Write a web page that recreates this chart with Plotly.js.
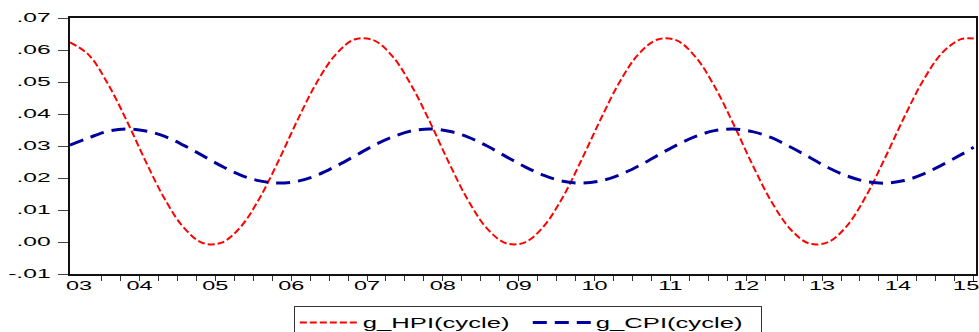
<!DOCTYPE html>
<html>
<head>
<meta charset="utf-8">
<script src="https://cdn.plot.ly/plotly-3.0.1.min.js"></script>
<style>
  html, body { margin: 0; padding: 0; background: #fff; }
  #chart { width: 979px; height: 332px; }
</style>
</head>
<body>
<div id="chart"></div>
<script>
const hpiCycle = [
  0.0624, 0.0584, 0.0494, 0.0378, 0.0251, 0.0134, 0.0045, -0.0003,
  -0.0002, 0.0047, 0.0137, 0.0254, 0.0381, 0.0497, 0.0585, 0.0633,
  0.0631, 0.0581, 0.0490, 0.0373, 0.0246, 0.0130, 0.0042, -0.0004,
  -0.0001, 0.0050, 0.0141, 0.0259, 0.0385, 0.0501, 0.0588, 0.0633,
  0.0630, 0.0578, 0.0486, 0.0368, 0.0241, 0.0126, 0.0040, -0.0005,
  0.0000, 0.0052, 0.0145, 0.0264, 0.0390, 0.0505, 0.0591, 0.0634,
  0.0636
];
const cpiCycle = [
  0.0303, 0.0326, 0.0346, 0.0353, 0.0347, 0.0330, 0.0302, 0.0270,
  0.0237, 0.0209, 0.0191, 0.0184, 0.0190, 0.0208, 0.0236, 0.0268,
  0.0301, 0.0328, 0.0347, 0.0353, 0.0346, 0.0328, 0.0300, 0.0267,
  0.0235, 0.0208, 0.0190, 0.0184, 0.0191, 0.0210, 0.0238, 0.0271,
  0.0303, 0.0330, 0.0348, 0.0353, 0.0345, 0.0326, 0.0297, 0.0265,
  0.0232, 0.0206, 0.0189, 0.0184, 0.0192, 0.0212, 0.0241, 0.0273,
  0.0296
];
const seriesNames = ["g_HPI(cycle)", "g_CPI(cycle)"];
const yearLabels = ["03","04","05","06","07","08","09","10","11","12","13","14","15"];
const yTickValues = [-0.01, 0.00, 0.01, 0.02, 0.03, 0.04, 0.05, 0.06, 0.07];
const yTickLabels = ["-.01", ".00", ".01", ".02", ".03", ".04", ".05", ".06", ".07"];

// observation dates (sample 2003M08 .. 2015M06, plotted quarterly)
const sampleStart = 2003 + 7 / 12, sampleEnd = 2015.5;
const obsTime = [];
for (let k = 0; k < hpiCycle.length - 1; k++) obsTime.push(sampleStart + k / 4);
obsTime.push(sampleEnd);

// label positions: centred within each visible year
const labelPos = yearLabels.map((s, i) => {
  const y0 = Math.max(2003 + i, sampleStart), y1 = Math.min(2004 + i, sampleEnd);
  return i === 0 ? y0 + 0.12 : (i === yearLabels.length - 1 ? y1 - 0.1 : (y0 + y1) / 2);
});
const quarterTicks = [];
for (let q = 2004; q <= sampleEnd + 1e-9; q += 0.25) quarterTicks.push(q);

const font = "Liberation Sans, Arial, sans-serif";

const traces = [
  { x: obsTime, y: hpiCycle, name: seriesNames[0], type: "scatter", mode: "lines",
    line: { color: "#ff0000", width: 2, dash: "7px,3px", shape: "spline", smoothing: 1 } },
  { x: obsTime, y: cpiCycle, name: seriesNames[1], type: "scatter", mode: "lines",
    line: { color: "#00009c", width: 3, dash: "14px,8px", shape: "spline", smoothing: 1 } }
];

const layout = {
  width: 979, height: 332,
  margin: { l: 70, r: 3, t: 18, b: 58, autoexpand: false },
  paper_bgcolor: "#fff", plot_bgcolor: "#fff",
  showlegend: true,
  legend: {
    orientation: "h", x: 0.247, xanchor: "left", y: -0.125, yanchor: "top",
    bordercolor: "#333", borderwidth: 1, bgcolor: "#fff",
    font: { family: font, size: 14, color: "#000" },
    itemwidth: 58, entrywidth: 160, entrywidthmode: "pixels"
  },
  xaxis: {
    range: [sampleStart, sampleEnd + 0.03],
    tickmode: "array", tickvals: labelPos, ticktext: yearLabels,
    ticks: "", showgrid: false, zeroline: false,
    showline: true, linecolor: "#111", linewidth: 2, mirror: true,
    tickfont: { family: font, size: 12, color: "#000" },
    minor: { tickmode: "array", tickvals: quarterTicks, ticks: "outside", ticklen: 5, tickcolor: "#333", tickwidth: 1, showgrid: false }
  },
  yaxis: {
    range: [-0.01, 0.07],
    tickmode: "array", tickvals: yTickValues, ticktext: yTickLabels,
    ticks: "outside", ticklen: 10, tickcolor: "#444", tickwidth: 1,
    ticklabelstandoff: 5,
    showgrid: false, zeroline: false,
    showline: true, linecolor: "#111", linewidth: 2, mirror: true,
    tickfont: { family: font, size: 12, color: "#000" }
  }
};

function stretchText(gd) {
  const apply = (sel, f) => gd.querySelectorAll(sel).forEach(t => {
    const w = t.getComputedTextLength();
    if (w > 0) {
      t.setAttribute("textLength", (w * f).toFixed(1));
      t.setAttribute("lengthAdjust", "spacingAndGlyphs");
    }
  });
  apply(".xtick text", 1.95);
  apply(".ytick text", 2.05);
  apply(".legendtext", 1.83);
}

Plotly.newPlot("chart", traces, layout, { displayModeBar: false, staticPlot: true })
  .then(gd => stretchText(gd));
</script>
</body>
</html>
